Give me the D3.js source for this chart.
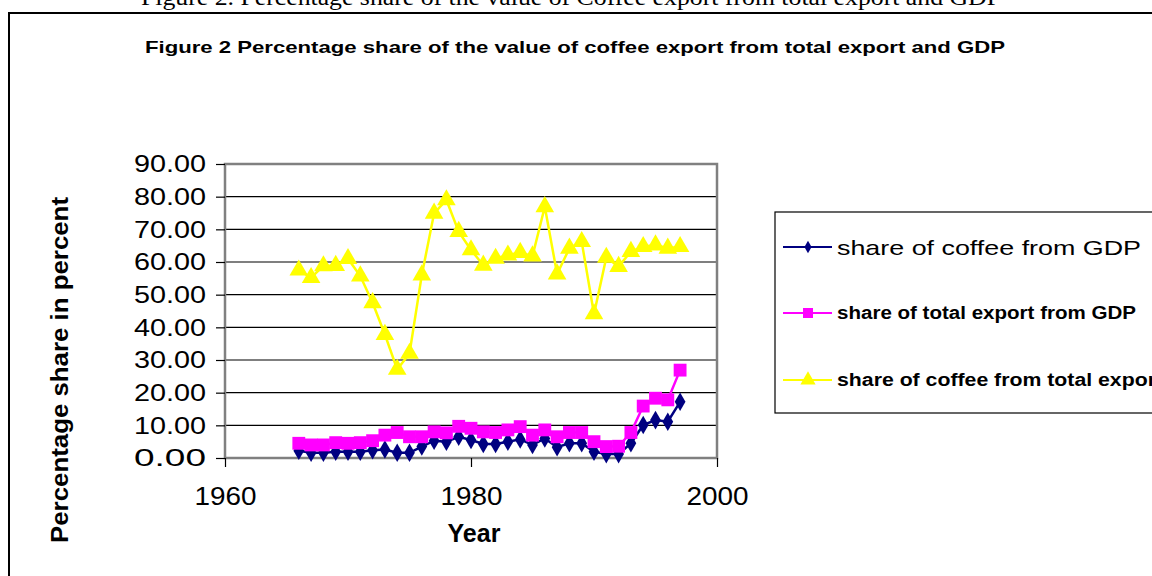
<!DOCTYPE html>
<html>
<head>
<meta charset="utf-8">
<script src="https://cdn.jsdelivr.net/npm/d3@7"></script>
<style>
  body { margin: 0; background: #fff; }
  svg { display: block; }
</style>
</head>
<body>
<div id="chart"></div>
<script>
var years = d3.range(1966, 1998)

// share of coffee from GDP
var coffeeGdp = [2.2, 1.6, 1.6, 1.9, 1.9, 1.9, 2.4, 2.6, 1.6, 1.6, 3.5, 5.3, 5.0, 6.5,
  5.5, 4.3, 4.3, 5.0, 5.7, 4.0, 6.0, 3.3, 4.5, 4.5, 1.9, 1.2, 1.2, 4.5, 10.1, 11.6, 11.1, 17.2]

// share of total export from GDP
var exportGdp = [4.5, 4.0, 4.0, 4.7, 4.5, 4.7, 5.3, 7.0, 7.8, 6.5, 6.5, 8.0, 7.7, 9.7,
  9.1, 8.0, 7.8, 8.6, 9.6, 7.0, 8.6, 6.5, 7.8, 7.8, 5.0, 3.5, 3.6, 7.8, 15.9, 18.3, 17.8, 26.9]

// share of coffee from total export
var coffeeExport = [57.5, 55.2, 58.8, 58.9, 61.0, 55.7, 47.5, 37.8, 27.1, 32.0, 56.0, 74.9, 79.0, 69.3,
  63.7, 59.0, 61.1, 62.1, 62.9, 61.8, 76.9, 56.3, 64.2, 66.2, 44.1, 61.4, 58.6, 63.2, 64.7, 65.2, 64.2, 64.7]

var yTicks = [0, 10, 20, 30, 40, 50, 60, 70, 80, 90]
var xTicks = [1960, 1980, 2000]

var seriesNames = ['share of coffee from GDP', 'share of total export from GDP', 'share of coffee from total export']
var seriesColors = ['#000080', '#ff00ff', '#ffff00']
var seriesShapes = [d3.symbolDiamond, d3.symbolSquare, d3.symbolTriangle]
var seriesData = [coffeeGdp, exportGdp, coffeeExport]

var W = 1152, H = 576
var plot = { left: 225, right: 717, top: 164, bottom: 458 }

var svg = d3.select('#chart').append('svg')
  .attr('width', W)
  .attr('height', H)

// caption above the frame (cut off at the top, as in the scan)
svg.append('text')
  .attr('x', 571)
  .attr('y', 5)
  .attr('text-anchor', 'middle')
  .attr('textLength', 860)
  .attr('lengthAdjust', 'spacingAndGlyphs')
  .style('font-family', 'Liberation Serif, Times New Roman, serif')
  .style('font-size', '23px')
  .text('Figure 2. Percentage share of the value of Coffee export from total export and GDP')

// outer frame
svg.append('rect')
  .attr('x', 9)
  .attr('y', 13)
  .attr('width', W + 20)
  .attr('height', H + 20)
  .attr('fill', 'none')
  .attr('stroke', '#000')
  .attr('stroke-width', 2)

svg.append('text')
  .attr('x', 575)
  .attr('y', 53)
  .attr('text-anchor', 'middle')
  .attr('textLength', 860)
  .attr('lengthAdjust', 'spacingAndGlyphs')
  .style('font-family', 'Liberation Sans, Arial, sans-serif')
  .style('font-weight', 'bold')
  .style('font-size', '17px')
  .text('Figure 2 Percentage share of the value of coffee export from total export and GDP')

var x = d3.scaleLinear().domain([1960, 2000]).range([plot.left, plot.right])
var y = d3.scaleLinear().domain([0, 90]).range([plot.bottom, plot.top])

var g = svg.append('g')

// gridlines
g.selectAll('line.grid')
  .data(yTicks.filter(function (d) { return d > 0 && d < 90 }))
  .enter().append('line')
  .attr('class', 'grid')
  .attr('x1', plot.left)
  .attr('x2', plot.right)
  .attr('y1', function (d) { return y(d) })
  .attr('y2', function (d) { return y(d) })
  .attr('stroke', '#000')
  .attr('stroke-width', 1.2)

// plot border
g.append('rect')
  .attr('x', plot.left)
  .attr('y', plot.top)
  .attr('width', plot.right - plot.left)
  .attr('height', plot.bottom - plot.top)
  .attr('fill', 'none')
  .attr('stroke', '#808080')
  .attr('stroke-width', 2.5)

// y axis
var yAxis = g.append('g')
  .attr('transform', 'translate(' + plot.left + ',0)')
  .call(d3.axisLeft(y).tickValues(yTicks).tickSize(9).tickPadding(10).tickFormat(d3.format('.2f')))
yAxis.select('.domain').remove()
yAxis.selectAll('.tick line').attr('stroke', '#000').attr('stroke-width', 1.2)
yAxis.selectAll('text')
  .attr('fill', '#000')
  .attr('textLength', 72)
  .attr('lengthAdjust', 'spacingAndGlyphs')
  .style('font-family', 'Liberation Sans, Arial, sans-serif')
  .style('font-size', '24px')

// x axis
var xAxis = g.append('g')
  .attr('transform', 'translate(0,' + plot.bottom + ')')
  .call(d3.axisBottom(x).tickValues(xTicks).tickSize(9).tickPadding(20).tickFormat(d3.format('d')))
xAxis.select('.domain').remove()
xAxis.selectAll('.tick line').attr('stroke', '#000').attr('stroke-width', 1.2)
xAxis.selectAll('text')
  .attr('fill', '#000')
  .attr('textLength', 62)
  .attr('lengthAdjust', 'spacingAndGlyphs')
  .style('font-family', 'Liberation Sans, Arial, sans-serif')
  .style('font-size', '26px')

// axis titles
svg.append('text')
  .attr('x', 474)
  .attr('y', 542)
  .attr('text-anchor', 'middle')
  .style('font-family', 'Liberation Sans, Arial, sans-serif')
  .style('font-weight', 'bold')
  .style('font-size', '25px')
  .text('Year')

svg.append('text')
  .attr('transform', 'translate(68,370) rotate(-90)')
  .attr('text-anchor', 'middle')
  .attr('textLength', 346)
  .attr('lengthAdjust', 'spacingAndGlyphs')
  .style('font-family', 'Liberation Sans, Arial, sans-serif')
  .style('font-weight', 'bold')
  .style('font-size', '24px')
  .text('Percentage share in percent')

// series
var line = d3.line()
  .x(function (d, i) { return x(years[i]) })
  .y(function (d) { return y(d) })

var markerSizes = [100, 165, 150]

seriesData.forEach(function (data, s) {
  var sg = g.append('g')
  sg.append('path')
    .datum(data)
    .attr('d', line)
    .attr('fill', 'none')
    .attr('stroke', seriesColors[s])
    .attr('stroke-width', 2.5)
  sg.selectAll('path.mark')
    .data(data)
    .enter().append('path')
    .attr('class', 'mark')
    .attr('transform', function (d, i) { return 'translate(' + x(years[i]) + ',' + y(d) + ')' })
    .attr('d', d3.symbol().type(seriesShapes[s]).size(markerSizes[s]))
    .attr('fill', seriesColors[s])
})

// legend
var legend = svg.append('g')
legend.append('rect')
  .attr('x', 775)
  .attr('y', 212)
  .attr('width', 400)
  .attr('height', 201)
  .attr('fill', '#fff')
  .attr('stroke', '#000')
  .attr('stroke-width', 1.2)

var legendY = [247, 313, 380]
var legendStyle = [
  { weight: 'normal', size: 21, len: 304 },
  { weight: 'bold', size: 18, len: 299 },
  { weight: 'bold', size: 18, len: 326 }
]
var legendMarkerSizes = [45, 100, 100]

seriesNames.forEach(function (name, s) {
  var row = legend.append('g').attr('transform', 'translate(0,' + legendY[s] + ')')
  row.append('line')
    .attr('x1', 783)
    .attr('x2', 832)
    .attr('stroke', seriesColors[s])
    .attr('stroke-width', 2)
  row.append('path')
    .attr('transform', 'translate(808,0)')
    .attr('d', d3.symbol().type(seriesShapes[s]).size(legendMarkerSizes[s]))
    .attr('fill', seriesColors[s])
  row.append('text')
    .attr('x', 837)
    .attr('y', legendStyle[s].size * 0.36)
    .attr('textLength', legendStyle[s].len)
    .attr('lengthAdjust', 'spacingAndGlyphs')
    .style('font-family', 'Liberation Sans, Arial, sans-serif')
    .style('font-weight', legendStyle[s].weight)
    .style('font-size', legendStyle[s].size + 'px')
    .text(name)
})
</script>
</body>
</html>
